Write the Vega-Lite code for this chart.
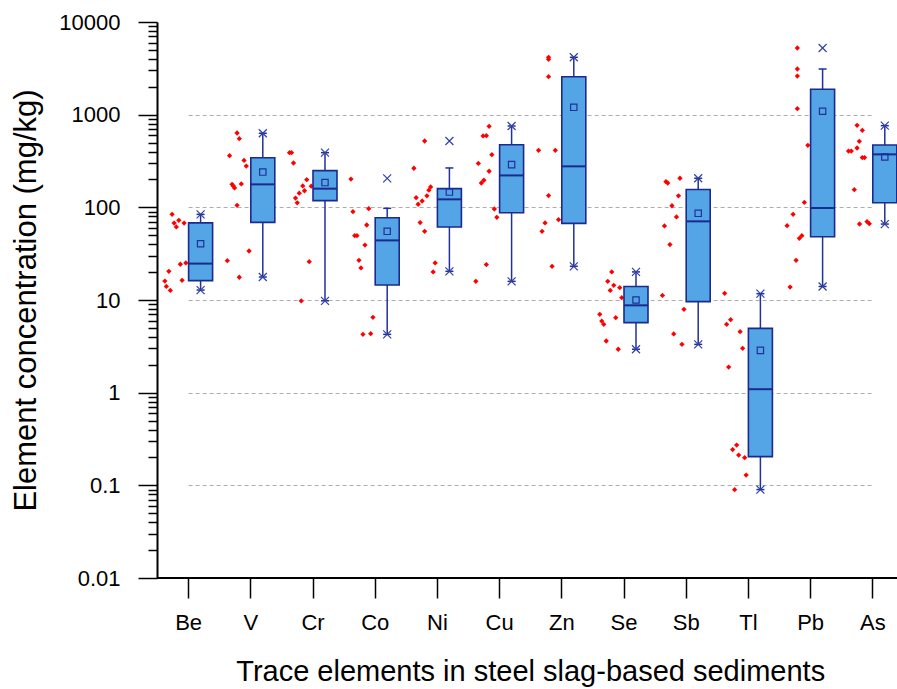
{
  "$schema": "https://vega.github.io/schema/vega-lite/v6.json",
  "width": 740,
  "height": 556,
  "autosize": {"type": "none"},
  "padding": {"left": 157, "top": 22, "right": 0, "bottom": 111},
  "background": "white",
  "config": {
    "view": {"stroke": null},
    "font": "Liberation Sans",
    "axis": {"labelFont": "Liberation Sans", "titleFont": "Liberation Sans", "labelColor": "black", "titleColor": "black", "titleFontWeight": "normal"}
  },
  "datasets": {
    "pts": [
      {"e": "Be", "v": 84.0, "j": 0.64}, {"e": "Be", "v": 67.7, "j": 0.56}, {"e": "Be", "v": 61.4, "j": 0.47}, {"e": "Be", "v": 72.4, "j": 0.37},
      {"e": "Be", "v": 67.7, "j": 0.16}, {"e": "Be", "v": 24.3, "j": 0.31}, {"e": "Be", "v": 25.1, "j": 0.09}, {"e": "Be", "v": 20.4, "j": 0.77},
      {"e": "Be", "v": 16.0, "j": 0.93}, {"e": "Be", "v": 14.0, "j": 0.87}, {"e": "Be", "v": 12.7, "j": 0.71}, {"e": "Be", "v": 16.3, "j": 0.24},
      {"e": "V", "v": 634, "j": 0.53}, {"e": "V", "v": 551, "j": 0.44}, {"e": "V", "v": 361, "j": 0.83}, {"e": "V", "v": 321, "j": 0.25},
      {"e": "V", "v": 279, "j": 0.16}, {"e": "V", "v": 177, "j": 0.73}, {"e": "V", "v": 170, "j": 0.68}, {"e": "V", "v": 162, "j": 0.63},
      {"e": "V", "v": 179, "j": 0.36}, {"e": "V", "v": 105, "j": 0.53}, {"e": "V", "v": 33.8, "j": 0.05}, {"e": "V", "v": 26.6, "j": 0.92},
      {"e": "V", "v": 17.6, "j": 0.44},
      {"e": "Cr", "v": 389, "j": 0.92}, {"e": "Cr", "v": 389, "j": 0.84}, {"e": "Cr", "v": 301, "j": 0.76}, {"e": "Cr", "v": 199, "j": 0.23},
      {"e": "Cr", "v": 170, "j": 0.39}, {"e": "Cr", "v": 151, "j": 0.32}, {"e": "Cr", "v": 142, "j": 0.53}, {"e": "Cr", "v": 126, "j": 0.68},
      {"e": "Cr", "v": 112, "j": 0.61}, {"e": "Cr", "v": 169, "j": 0.05}, {"e": "Cr", "v": 25.9, "j": 0.13}, {"e": "Cr", "v": 9.76, "j": 0.45},
      {"e": "Co", "v": 202, "j": 0.95}, {"e": "Co", "v": 89.8, "j": 0.87}, {"e": "Co", "v": 96.8, "j": 0.24}, {"e": "Co", "v": 64.5, "j": 0.32},
      {"e": "Co", "v": 49.4, "j": 0.8}, {"e": "Co", "v": 49.4, "j": 0.71}, {"e": "Co", "v": 39.2, "j": 0.39}, {"e": "Co", "v": 26.8, "j": 0.63},
      {"e": "Co", "v": 22.2, "j": 0.55}, {"e": "Co", "v": 6.5, "j": 0.07}, {"e": "Co", "v": 4.26, "j": 0.47}, {"e": "Co", "v": 4.33, "j": 0.16},
      {"e": "Ni", "v": 520, "j": 0.49}, {"e": "Ni", "v": 264, "j": 0.92}, {"e": "Ni", "v": 127, "j": 0.83}, {"e": "Ni", "v": 108, "j": 0.75},
      {"e": "Ni", "v": 117, "j": 0.59}, {"e": "Ni", "v": 133, "j": 0.4}, {"e": "Ni", "v": 153, "j": 0.32}, {"e": "Ni", "v": 166, "j": 0.25},
      {"e": "Ni", "v": 68.4, "j": 0.67}, {"e": "Ni", "v": 55.1, "j": 0.49}, {"e": "Ni", "v": 25.1, "j": 0.07}, {"e": "Ni", "v": 20.1, "j": 0.15},
      {"e": "Cu", "v": 748, "j": 0.4}, {"e": "Cu", "v": 589, "j": 0.64}, {"e": "Cu", "v": 594, "j": 0.51}, {"e": "Cu", "v": 370, "j": 0.29},
      {"e": "Cu", "v": 298, "j": 0.83}, {"e": "Cu", "v": 245, "j": 0.4}, {"e": "Cu", "v": 183, "j": 0.71}, {"e": "Cu", "v": 196, "j": 0.61},
      {"e": "Cu", "v": 95.9, "j": 0.19}, {"e": "Cu", "v": 78.0, "j": 0.09}, {"e": "Cu", "v": 24.1, "j": 0.51}, {"e": "Cu", "v": 15.9, "j": 0.93},
      {"e": "Zn", "v": 4160, "j": 0.51}, {"e": "Zn", "v": 3955, "j": 0.51}, {"e": "Zn", "v": 2570, "j": 0.51}, {"e": "Zn", "v": 412, "j": 0.91},
      {"e": "Zn", "v": 412, "j": 0.24}, {"e": "Zn", "v": 134, "j": 0.51}, {"e": "Zn", "v": 67.8, "j": 0.65}, {"e": "Zn", "v": 55.1, "j": 0.77},
      {"e": "Zn", "v": 73.6, "j": 0.11}, {"e": "Zn", "v": 23.1, "j": 0.37},
      {"e": "Se", "v": 20.1, "j": 0.47}, {"e": "Se", "v": 15.9, "j": 0.63}, {"e": "Se", "v": 14.4, "j": 0.39}, {"e": "Se", "v": 13.6, "j": 0.15},
      {"e": "Se", "v": 12.7, "j": 0.53}, {"e": "Se", "v": 10.6, "j": 0.07}, {"e": "Se", "v": 7.0, "j": 0.95}, {"e": "Se", "v": 6.45, "j": 0.31},
      {"e": "Se", "v": 5.93, "j": 0.87}, {"e": "Se", "v": 5.46, "j": 0.79}, {"e": "Se", "v": 3.61, "j": 0.69}, {"e": "Se", "v": 2.94, "j": 0.21},
      {"e": "Sb", "v": 189, "j": 0.79}, {"e": "Sb", "v": 183, "j": 0.72}, {"e": "Sb", "v": 206, "j": 0.23}, {"e": "Sb", "v": 133, "j": 0.29},
      {"e": "Sb", "v": 104, "j": 0.55}, {"e": "Sb", "v": 78.7, "j": 0.37}, {"e": "Sb", "v": 63.0, "j": 0.85}, {"e": "Sb", "v": 39.6, "j": 0.63},
      {"e": "Sb", "v": 11.2, "j": 0.93}, {"e": "Sb", "v": 7.93, "j": 0.07}, {"e": "Sb", "v": 4.30, "j": 0.48}, {"e": "Sb", "v": 3.32, "j": 0.15},
      {"e": "Tl", "v": 11.8, "j": 0.93}, {"e": "Tl", "v": 6.13, "j": 0.69}, {"e": "Tl", "v": 5.46, "j": 0.85}, {"e": "Tl", "v": 4.55, "j": 0.31},
      {"e": "Tl", "v": 3.01, "j": 0.21}, {"e": "Tl", "v": 1.89, "j": 0.77}, {"e": "Tl", "v": 0.272, "j": 0.45}, {"e": "Tl", "v": 0.243, "j": 0.61},
      {"e": "Tl", "v": 0.212, "j": 0.37}, {"e": "Tl", "v": 0.199, "j": 0.13}, {"e": "Tl", "v": 0.129, "j": 0.07}, {"e": "Tl", "v": 0.0898, "j": 0.53},
      {"e": "Pb", "v": 5240, "j": 0.51}, {"e": "Pb", "v": 3110, "j": 0.51}, {"e": "Pb", "v": 2610, "j": 0.51}, {"e": "Pb", "v": 1160, "j": 0.51},
      {"e": "Pb", "v": 467, "j": 0.09}, {"e": "Pb", "v": 113, "j": 0.23}, {"e": "Pb", "v": 84.0, "j": 0.68}, {"e": "Pb", "v": 63.4, "j": 0.92},
      {"e": "Pb", "v": 49.4, "j": 0.33}, {"e": "Pb", "v": 46.3, "j": 0.43}, {"e": "Pb", "v": 26.8, "j": 0.56}, {"e": "Pb", "v": 13.8, "j": 0.8},
      {"e": "As", "v": 767, "j": 0.61}, {"e": "As", "v": 678, "j": 0.4}, {"e": "As", "v": 515, "j": 0.52}, {"e": "As", "v": 437, "j": 0.61},
      {"e": "As", "v": 405, "j": 0.95}, {"e": "As", "v": 405, "j": 0.84}, {"e": "As", "v": 344, "j": 0.4}, {"e": "As", "v": 344, "j": 0.31},
      {"e": "As", "v": 155, "j": 0.72}, {"e": "As", "v": 66.1, "j": 0.51}, {"e": "As", "v": 70.0, "j": 0.21}, {"e": "As", "v": 66.6, "j": 0.12}
    ],
    "box": [
      {"e": "Be", "q1": 16.2, "med": 24.7, "q3": 67.9, "mean": 40.5, "lo": 12.8, "hi": 84, "min": 12.8, "max": 84},
      {"e": "V", "q1": 68.9, "med": 177, "q3": 343, "mean": 240, "lo": 17.7, "hi": 630, "min": 17.7, "max": 630},
      {"e": "Cr", "q1": 118, "med": 159, "q3": 249, "mean": 185, "lo": 9.8, "hi": 389, "min": 9.8, "max": 389},
      {"e": "Co", "q1": 14.5, "med": 44, "q3": 77.3, "mean": 55.1, "lo": 4.26, "hi": 97.5, "min": 4.26, "max": 205},
      {"e": "Ni", "q1": 61.4, "med": 122, "q3": 159, "mean": 146, "lo": 20.4, "hi": 266, "min": 20.4, "max": 520},
      {"e": "Cu", "q1": 87.5, "med": 221, "q3": 474, "mean": 289, "lo": 15.9, "hi": 755, "min": 15.9, "max": 755},
      {"e": "Zn", "q1": 67.2, "med": 277, "q3": 2570, "mean": 1200, "lo": 23.1, "hi": 4160, "min": 23.1, "max": 4160},
      {"e": "Se", "q1": 5.7, "med": 8.76, "q3": 14.0, "mean": 10.0, "lo": 2.94, "hi": 20.1, "min": 2.94, "max": 20.1},
      {"e": "Sb", "q1": 9.6, "med": 70.6, "q3": 156, "mean": 86.1, "lo": 3.32, "hi": 206, "min": 3.32, "max": 206},
      {"e": "Tl", "q1": 0.204, "med": 1.09, "q3": 4.94, "mean": 2.86, "lo": 0.09, "hi": 11.7, "min": 0.09, "max": 11.7},
      {"e": "Pb", "q1": 48.2, "med": 98.4, "q3": 1880, "mean": 1087, "lo": 14.0, "hi": 3110, "min": 14.0, "max": 5240},
      {"e": "As", "q1": 112, "med": 373, "q3": 471, "mean": 349, "lo": 66, "hi": 761, "min": 66, "max": 761}
    ]
  },
  "layer": [
    {
      "encoding": {
        "x": {
          "field": "e", "type": "nominal",
          "scale": {"type": "point", "domain": ["Be", "V", "Cr", "Co", "Ni", "Cu", "Zn", "Se", "Sb", "Tl", "Pb", "As"], "range": [31.1, 715.3], "padding": 0},
          "axis": {
            "title": "Trace elements in steel slag-based sediments",
            "titleFontSize": 29, "titleBaseline": "alphabetic", "titleY": 102,
            "domain": false, "grid": false,
            "tickSize": 20, "tickWidth": 1.5, "tickColor": "black",
            "labelFontSize": 22, "labelPadding": 14.5, "labelAngle": 0
          }
        }
      },
      "layer": [
        {
          "data": {"name": "pts"},
          "mark": {"type": "point", "shape": "diamond", "filled": true, "size": 28, "color": "#FF0000", "opacity": 1},
          "encoding": {
            "xOffset": {"field": "j", "type": "quantitative", "scale": {"domain": [0, 1], "range": [0, -25]}},
            "y": {
              "field": "v", "type": "quantitative",
              "scale": {"type": "log", "domain": [0.01, 10000], "nice": false},
              "axis": {
                "title": "Element concentration (mg/kg)",
                "titleFontSize": 31, "titleAngle": 270, "titleBaseline": "alphabetic", "titleX": -122,
                "values": [0.01, 0.02, 0.03, 0.04, 0.05, 0.06, 0.07, 0.08, 0.09,
                           0.1, 0.2, 0.3, 0.4, 0.5, 0.6, 0.7, 0.8, 0.9,
                           1, 2, 3, 4, 5, 6, 7, 8, 9,
                           10, 20, 30, 40, 50, 60, 70, 80, 90,
                           100, 200, 300, 400, 500, 600, 700, 800, 900,
                           1000, 2000, 3000, 4000, 5000, 6000, 7000, 8000, 9000, 10000],
                "labelExpr": "abs(log(datum.value)/LN10 - round(log(datum.value)/LN10)) < 0.001 ? toString(datum.value) : ''",
                "labelOverlap": false, "labelFlush": false, "labelBound": false,
                "labelFontSize": 22, "labelPadding": 18, "labelBaseline": "middle",
                "domain": true, "domainColor": "black", "domainWidth": 2,
                "tickColor": "black", "tickWidth": 1.5,
                "tickSize": {"condition": {"test": "abs(log(datum.value)/LN10 - round(log(datum.value)/LN10)) < 0.001", "value": 19}, "value": 9},
                "grid": true, "gridColor": "#ADADAD", "gridDash": [4, 3], "gridWidth": 1.1,
                "gridOpacity": {"condition": {"test": "abs(log(datum.value)/LN10 - round(log(datum.value)/LN10)) < 0.001 && datum.value > 0.05 && datum.value < 5000", "value": 1}, "value": 0}
              }
            }
          }
        },
        {
          "data": {"name": "box"},
          "mark": {"type": "rule", "xOffset": 12.5, "color": "#22309A", "strokeWidth": 1.5},
          "encoding": {
            "y": {"field": "lo", "type": "quantitative", "title": "Element concentration (mg/kg)"},
            "y2": {"field": "hi"}
          }
        },
        {
          "data": {"name": "box"},
          "mark": {"type": "bar", "xOffset": 12.5, "width": 24, "fill": "#53A5E6", "stroke": "#1B2A8F", "strokeWidth": 1.6},
          "encoding": {
            "y": {"field": "q1", "type": "quantitative", "title": "Element concentration (mg/kg)"},
            "y2": {"field": "q3"}
          }
        },
        {
          "data": {"name": "box"},
          "mark": {"type": "tick", "xOffset": 12.5, "size": 24, "thickness": 2, "color": "#1B2A8F", "opacity": 1},
          "encoding": {
            "y": {"field": "med", "type": "quantitative", "title": "Element concentration (mg/kg)"}
          }
        },
        {
          "data": {"name": "box"},
          "mark": {"type": "tick", "xOffset": 12.5, "size": 8, "thickness": 1.5, "color": "#22309A", "opacity": 1},
          "encoding": {
            "y": {"field": "lo", "type": "quantitative", "title": "Element concentration (mg/kg)"}
          }
        },
        {
          "data": {"name": "box"},
          "mark": {"type": "tick", "xOffset": 12.5, "size": 8, "thickness": 1.5, "color": "#22309A", "opacity": 1},
          "encoding": {
            "y": {"field": "hi", "type": "quantitative", "title": "Element concentration (mg/kg)"}
          }
        },
        {
          "data": {"name": "box"},
          "mark": {"type": "point", "shape": "square", "xOffset": 12.5, "size": 40, "filled": false, "stroke": "#22309A", "strokeWidth": 1.2, "opacity": 1},
          "encoding": {
            "y": {"field": "mean", "type": "quantitative", "title": "Element concentration (mg/kg)"}
          }
        },
        {
          "data": {"name": "box"},
          "mark": {"type": "point", "shape": "M-1,-1L1,1M-1,1L1,-1", "xOffset": 12.5, "size": 64, "filled": false, "stroke": "#3040A8", "strokeWidth": 1.2, "opacity": 1},
          "encoding": {
            "y": {"field": "min", "type": "quantitative", "title": "Element concentration (mg/kg)"}
          }
        },
        {
          "data": {"name": "box"},
          "mark": {"type": "point", "shape": "M-1,-1L1,1M-1,1L1,-1", "xOffset": 12.5, "size": 64, "filled": false, "stroke": "#3040A8", "strokeWidth": 1.2, "opacity": 1},
          "encoding": {
            "y": {"field": "max", "type": "quantitative", "title": "Element concentration (mg/kg)"}
          }
        }
      ]
    },
    {
      "data": {"values": [{}]},
      "mark": {"type": "rule", "color": "black", "strokeWidth": 2},
      "encoding": {
        "y": {"datum": 0.01, "type": "quantitative", "title": "Element concentration (mg/kg)"}
      }
    }
  ]
}
